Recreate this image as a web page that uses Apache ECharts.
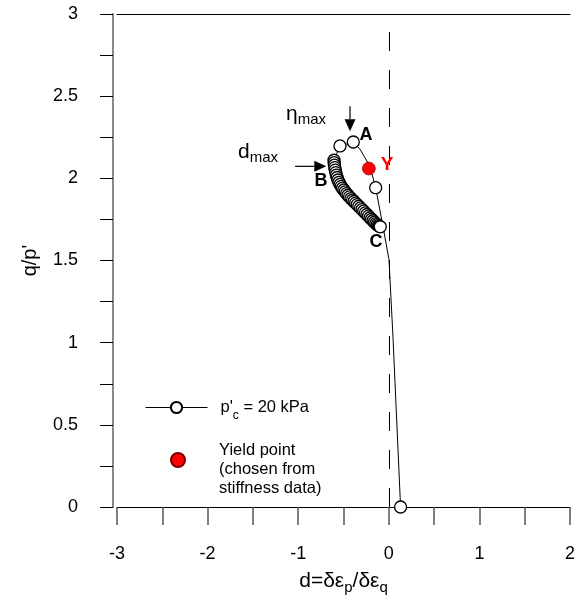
<!DOCTYPE html>
<html>
<head>
<meta charset="utf-8">
<script src="https://cdn.jsdelivr.net/npm/echarts@6/dist/echarts.min.js"></script>
<style>
  html, body { margin: 0; padding: 0; background: #fff; }
  #chart { width: 581px; height: 606px; }
</style>
</head>
<body>
<div id="chart"></div>
<script>
// Stress ratio q/p' against dilatancy d for the test at p'c = 20 kPa.
// Points are listed in loading order; pathMarked = 1 gets an open circle.
const pathD = [
  0.130, 0.046, 0.002, -0.058, -0.145, -0.208, -0.318, -0.392, -0.539, -0.605,
  -0.603, -0.600, -0.596, -0.591, -0.585, -0.578, -0.570, -0.561, -0.550, -0.538,
  -0.525, -0.511, -0.496, -0.481, -0.466, -0.450, -0.434, -0.417, -0.400, -0.383,
  -0.366, -0.349, -0.331, -0.313, -0.295, -0.277, -0.259, -0.241, -0.224, -0.207,
  -0.190, -0.174, -0.158, -0.143, -0.129, -0.116, -0.104, -0.094
];
const pathEta = [
  0.000, 1.037, 1.506, 1.689, 1.943, 2.073, 2.177, 2.221, 2.197, 2.110,
  2.095, 2.080, 2.065, 2.050, 2.035, 2.020, 2.005, 1.990, 1.976, 1.963,
  1.951, 1.940, 1.929, 1.918, 1.907, 1.897, 1.887, 1.877, 1.868, 1.859,
  1.849, 1.840, 1.830, 1.820, 1.810, 1.800, 1.790, 1.780, 1.770, 1.760,
  1.751, 1.742, 1.733, 1.725, 1.718, 1.712, 1.708, 1.705
];
const pathMarked = [
  1, 0, 0, 0, 1, 0, 0, 1, 1, 1,
  1, 1, 1, 1, 1, 1, 1, 1, 1, 1,
  1, 1, 1, 1, 1, 1, 1, 1, 1, 1,
  1, 1, 1, 1, 1, 1, 1, 1, 1, 1,
  1, 1, 1, 1, 1, 1, 1, 1
];

// Yield point chosen from the stiffness data
const yieldD = [-0.22];
const yieldEta = [2.06];

// Axis ranges and labelled ticks
const xRange = [-3, 2];
const yRange = [0, 3];
const xTickLabels = [-3, -2, -1, 0, 1, 2];
const yTickLabels = [0, 0.5, 1, 1.5, 2, 2.5, 3];

const FONT = "'Liberation Sans', Arial, sans-serif";
const seriesName = "p'c = 20 kPa";
const yieldName = 'Yield point';

const pathData = pathD.map((d, i) => {
  const item = { value: [d, pathEta[i]] };
  if (!pathMarked[i]) item.symbol = 'none';
  return item;
});
const yieldData = yieldD.map((d, i) => [d, yieldEta[i]]);

const near = (v, list) => list.some(t => Math.abs(t - v) < 1e-9);

const option = {
  animation: false,
  backgroundColor: '#fff',
  grid: { left: 117, right: 11, top: 14, bottom: 99, containLabel: false, outerBoundsMode: 'none' },
  xAxis: [
    {
      type: 'value', min: xRange[0], max: xRange[1], interval: 0.5,
      position: 'bottom',
      name: 'd=δε{s|p}/δε{s|q}',
      nameLocation: 'middle', nameGap: 64,
      nameTextStyle: {
        fontFamily: FONT, fontSize: 21, color: '#000',
        rich: { s: { fontFamily: FONT, fontSize: 15, color: '#000', verticalAlign: 'bottom', lineHeight: 14, padding: [0, 0, -3, 0] } }
      },
      axisLine: { show: true, onZero: false, lineStyle: { color: '#000', width: 1 } },
      axisTick: { show: true, inside: false, length: 18, lineStyle: { color: '#555', width: 1.5 } },
      axisLabel: {
        show: true, margin: 38, fontFamily: FONT, fontSize: 18, color: '#000',
        formatter: v => near(v, xTickLabels) ? String(Math.round(v)) : ''
      },
      splitLine: { show: false }
    },
    {
      type: 'value', min: xRange[0], max: xRange[1], position: 'top',
      axisLine: { show: true, onZero: false, lineStyle: { color: '#000', width: 1 } },
      axisTick: { show: false }, axisLabel: { show: false }, splitLine: { show: false }
    }
  ],
  yAxis: {
    type: 'value', min: yRange[0], max: yRange[1], interval: 0.25,
    offset: 4,
    name: "q/p'",
    nameLocation: 'middle', nameGap: 73, nameRotate: 90,
    nameTextStyle: { fontFamily: FONT, fontSize: 20, color: '#000' },
    axisLine: { show: true, onZero: false, lineStyle: { color: '#888', width: 2 } },
    axisTick: { show: true, inside: false, length: 13, lineStyle: { color: '#000', width: 1 } },
    axisLabel: {
      show: true, margin: 35, fontFamily: FONT, fontSize: 18, color: '#000',
      formatter: v => near(v, yTickLabels) ? String(v) : ''
    },
    splitLine: { show: false }
  },
  legend: [
    {
      data: [seriesName], left: 145, top: 399, padding: 0,
      itemWidth: 62, itemHeight: 14,
      lineStyle: { width: 1 },
      formatter: () => "p'{s|c} = 20 kPa",
      textStyle: {
        fontFamily: FONT, fontSize: 16.5, color: '#000', padding: [0, 0, 0, 8],
        rich: { s: { fontFamily: FONT, fontSize: 12, color: '#000', verticalAlign: 'bottom', lineHeight: 12, padding: [0, 0, -6, 0] } }
      },
      selectedMode: false
    },
    {
      data: [yieldName], left: 170, top: 422, padding: 0,
      itemWidth: 14, itemHeight: 14,
      formatter: () => '\nYield point\n(chosen from\nstiffness data)',
      textStyle: {
        fontFamily: FONT, fontSize: 16.5, color: '#000', lineHeight: 19, padding: [0, 0, 0, 29]
      },
      selectedMode: false
    }
  ],
  series: [
    {
      name: seriesName, type: 'line', data: pathData,
      symbol: 'circle', symbolSize: 12, showSymbol: true,
      itemStyle: { color: '#fff', borderColor: '#000', borderWidth: 1.3 },
      lineStyle: { color: '#000', width: 1 },
      z: 3,
      markLine: {
        silent: true, symbol: ['none', 'none'], label: { show: false },
        lineStyle: { color: '#000', width: 1, type: [19, 19] },
        data: [{ xAxis: 0 }],
        z: 1
      }
    },
    {
      name: yieldName, type: 'scatter', data: yieldData,
      symbol: 'circle', symbolSize: 13,
      itemStyle: { color: '#ff0000', borderColor: '#700', borderWidth: 0.6, opacity: 1 },
      z: 4
    }
  ]
};

const chart = echarts.init(document.getElementById('chart'), null, { renderer: 'canvas' });
chart.setOption(option);

// Annotations anchored in data space
const px = (d, e) => chart.convertToPixel({ xAxisIndex: 0, yAxisIndex: 0 }, [d, e]);
const letter = (txt, d, e, color, size) => {
  const p = px(d, e);
  return {
    type: 'text', x: p[0], y: p[1], z: 10,
    style: { text: txt, fontFamily: FONT, fontSize: size || 18, fontWeight: 'bold', fill: color, align: 'center', verticalAlign: 'middle' }
  };
};
const subText = (main, sub, d, e) => {
  const p = px(d, e);
  return {
    type: 'text', x: p[0], y: p[1], z: 10,
    style: {
      text: '{m|' + main + '}{s|' + sub + '}', align: 'left', verticalAlign: 'middle',
      rich: {
        m: { fontFamily: FONT, fontSize: 21, fill: '#000', lineHeight: 24, verticalAlign: 'top' },
        s: { fontFamily: FONT, fontSize: 15, fill: '#000', lineHeight: 16, verticalAlign: 'bottom' }
      }
    }
  };
};
const arrow = (d0, e0, d1, e1) => {
  const a = px(d0, e0), b = px(d1, e1);
  const ang = Math.atan2(b[1] - a[1], b[0] - a[0]);
  const L = 12, W = 5.5;
  const bx = b[0] - L * Math.cos(ang), by = b[1] - L * Math.sin(ang);
  const nx = -Math.sin(ang) * W, ny = Math.cos(ang) * W;
  return [
    { type: 'line', z: 10, shape: { x1: a[0], y1: a[1], x2: bx, y2: by }, style: { stroke: '#000', lineWidth: 1.2 } },
    { type: 'polygon', z: 10, shape: { points: [[b[0], b[1]], [bx + nx, by + ny], [bx - nx, by - ny]] }, style: { fill: '#000' } }
  ];
};

chart.setOption({
  graphic: [
    letter('A', -0.252, 2.262, '#000'),
    letter('B', -0.748, 1.985, '#000'),
    letter('C', -0.141, 1.612, '#000'),
    letter('Y', -0.018, 2.085, '#ff0000', 19),
    subText('η', 'max', -1.135, 2.384),
    subText('d', 'max', -1.664, 2.150),
    ...arrow(-0.428, 2.439, -0.428, 2.287),
    ...arrow(-1.035, 2.073, -0.690, 2.073)
  ]
});
</script>
</body>
</html>
